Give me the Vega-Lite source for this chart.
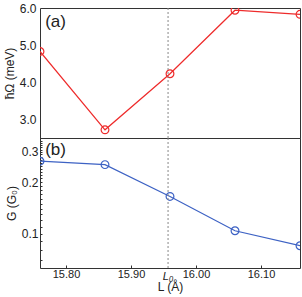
{
  "$schema": "https://vega.github.io/schema/vega-lite/v6.json",
  "padding": {"left": 2, "top": 1, "right": 4, "bottom": 1},
  "spacing": 0,
  "bounds": "flush",
  "config": {
    "font": "Liberation Sans",
    "view": {"stroke": "#333333", "strokeWidth": 1},
    "axis": {
      "domain": false,
      "grid": false,
      "labelColor": "#222222",
      "titleColor": "#222222",
      "labelFont": "Liberation Sans",
      "titleFont": "Liberation Sans",
      "titleFontWeight": "normal",
      "tickColor": "#333333"
    }
  },
  "vconcat": [
    {
      "width": 260,
      "height": 130,
      "data": {"values": [
        {"L": 15.76, "E": 4.83},
        {"L": 15.86, "E": 2.72},
        {"L": 15.96, "E": 4.23},
        {"L": 16.06, "E": 5.94},
        {"L": 16.16, "E": 5.83}
      ]},
      "layer": [
        {
          "mark": {"type": "line", "color": "#ee2b2b", "strokeWidth": 1.2, "clip": true},
          "encoding": {
            "x": {"field": "L", "type": "quantitative", "scale": {"domain": [15.76, 16.16], "nice": false, "zero": false}, "axis": null},
            "y": {"field": "E", "type": "quantitative", "scale": {"domain": [2.5, 6.0], "nice": false, "zero": false},
              "axis": {"title": "ħΩ (meV)", "values": [3, 3.5, 4, 4.5, 5, 5.5, 6], "format": ".1f", "ticks": false, "labelOverlap": "greedy", "labelSeparation": 0, "labelFlush": false, "labelFontSize": 12, "labelPadding": 4, "titleFontSize": 12, "titlePadding": 3}}
          }
        },
        {
          "mark": {"type": "point", "shape": "circle", "filled": false, "size": 60, "strokeWidth": 1.2, "color": "#ee2b2b", "clip": true, "opacity": 1},
          "encoding": {
            "x": {"field": "L", "type": "quantitative"},
            "y": {"field": "E", "type": "quantitative"}
          }
        },
        {
          "data": {"values": [{"L": 15.957}]},
          "mark": {"type": "rule", "color": "#888888", "strokeDash": [2, 2], "strokeWidth": 1},
          "encoding": {"x": {"field": "L", "type": "quantitative"}}
        },
        {
          "data": {"values": [{"L": 15.768, "E": 5.62, "t": "(a)"}]},
          "mark": {"type": "text", "align": "left", "baseline": "middle", "fontSize": 17, "color": "#222222"},
          "encoding": {
            "x": {"field": "L", "type": "quantitative"},
            "y": {"field": "E", "type": "quantitative"},
            "text": {"field": "t", "type": "nominal"}
          }
        }
      ]
    },
    {
      "width": 260,
      "height": 130,
      "data": {"values": [
        {"L": 15.76, "G": 0.265},
        {"L": 15.86, "G": 0.253},
        {"L": 15.96, "G": 0.165},
        {"L": 16.06, "G": 0.104},
        {"L": 16.16, "G": 0.085}
      ]},
      "layer": [
        {
          "mark": {"type": "line", "color": "#3d62c4", "strokeWidth": 1.2, "clip": true},
          "encoding": {
            "x": {"field": "L", "type": "quantitative", "scale": {"domain": [15.76, 16.16], "nice": false, "zero": false},
              "axis": {"title": "L (Å)", "values": [15.8, 15.85, 15.9, 15.95, 16.0, 16.05, 16.1, 16.15],
                "labelExpr": "abs(round(datum.value*10)-datum.value*10)<0.000001 ? format(datum.value,'.2f') : ''",
                "labelOverlap": "greedy", "labelSeparation": 0, "labelFlush": false, "tickSize": -3, "labelPadding": 3, "labelFontSize": 11, "titleFontSize": 12, "titlePadding": 2}},
            "y": {"field": "G", "type": "quantitative", "scale": {"type": "log", "domain": [0.063, 0.362], "nice": false},
              "axis": {"title": "G (G₀)",
                "values": [0.07, 0.08, 0.09, 0.1, 0.11, 0.12, 0.13, 0.14, 0.15, 0.16, 0.17, 0.18, 0.19, 0.2, 0.21, 0.22, 0.23, 0.24, 0.25, 0.26, 0.27, 0.28, 0.29, 0.3, 0.31, 0.32, 0.33, 0.34, 0.35, 0.36],
                "labelExpr": "(abs(datum.value-0.1)<0.000001 || abs(datum.value-0.2)<0.000001 || abs(datum.value-0.3)<0.000001) ? format(datum.value,'.1f') : ''",
                "labelOverlap": false, "labelFlush": false, "tickSize": -2, "labelPadding": 4, "labelFontSize": 12, "titleFontSize": 12, "titlePadding": 3}}
          }
        },
        {
          "mark": {"type": "point", "shape": "circle", "filled": false, "size": 60, "strokeWidth": 1.2, "color": "#3d62c4", "clip": true, "opacity": 1},
          "encoding": {
            "x": {"field": "L", "type": "quantitative"},
            "y": {"field": "G", "type": "quantitative"}
          }
        },
        {
          "data": {"values": [{"L": 15.957}]},
          "mark": {"type": "rule", "color": "#888888", "strokeDash": [2, 2], "strokeWidth": 1},
          "encoding": {"x": {"field": "L", "type": "quantitative"}}
        },
        {
          "data": {"values": [{"L": 15.768, "G": 0.31, "t": "(b)"}]},
          "mark": {"type": "text", "align": "left", "baseline": "middle", "fontSize": 17, "color": "#222222"},
          "encoding": {
            "x": {"field": "L", "type": "quantitative"},
            "y": {"field": "G", "type": "quantitative"},
            "text": {"field": "t", "type": "nominal"}
          }
        },
        {
          "data": {"values": [{"L": 15.957, "G": 0.0605, "t": "L₀"}]},
          "mark": {"type": "text", "align": "center", "baseline": "top", "fontSize": 11, "fontStyle": "italic", "color": "#222222"},
          "encoding": {
            "x": {"field": "L", "type": "quantitative"},
            "y": {"field": "G", "type": "quantitative"},
            "text": {"field": "t", "type": "nominal"}
          }
        }
      ]
    }
  ]
}
